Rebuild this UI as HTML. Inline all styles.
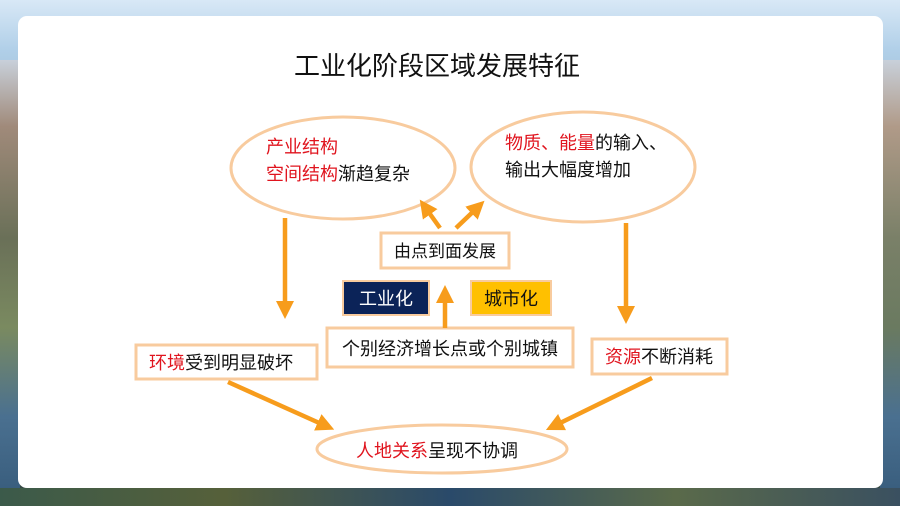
<!DOCTYPE html>
<html><head><meta charset="utf-8"><style>
html,body{margin:0;padding:0;width:900px;height:506px;overflow:hidden}
body{background:linear-gradient(180deg,#d8e8f6 0%,#b0cfe8 10%,#8aa0b0 40%,#5f7c86 70%,#2c4656 90%,#3a4a3a 100%);position:relative;font-family:"Liberation Sans","Noto Sans CJK SC",sans-serif}
.l{position:absolute;left:0;top:60px;width:20px;height:446px;background:linear-gradient(180deg,#c8d0da,#a08a7a 15%,#6a7058 40%,#7a8a60 60%,#4a7090 80%,#365a7a)}
.r{position:absolute;right:0;top:60px;width:20px;height:446px;background:linear-gradient(180deg,#c8d0da,#b09a88 15%,#7a8068 40%,#6a7a60 60%,#4a7090 80%,#365a7a)}
.b{position:absolute;left:0;top:488px;width:900px;height:18px;background:linear-gradient(90deg,#3b5a4a,#56603a,#2a4a6a,#5a6a4a,#3a5060)}
.card{position:absolute;left:18px;top:16px;width:865px;height:472px;background:#fff;border-radius:9px}
svg{position:absolute;left:0;top:0}
text{font-family:"Liberation Sans","Noto Sans CJK SC",sans-serif}
</style></head><body>
<div class="l"></div><div class="r"></div><div class="b"></div>
<div class="card"></div>
<svg width="900" height="506" viewBox="0 0 900 506">
<defs>
<marker id="a" markerWidth="4" markerHeight="4" refX="2" refY="2" orient="auto" markerUnits="strokeWidth"><path d="M0,0 L4,2 L0,4 z" fill="#f79c1c"/></marker>
</defs>
<text x="437" y="75" font-size="26" text-anchor="middle" fill="#111">工业化阶段区域发展特征</text>
<ellipse cx="343" cy="168" rx="112" ry="51" fill="none" stroke="#f8cb9e" stroke-width="3"/>
<ellipse cx="583" cy="167" rx="112" ry="55" fill="none" stroke="#f8cb9e" stroke-width="3"/>
<ellipse cx="442" cy="449" rx="125" ry="24" fill="none" stroke="#f8cb9e" stroke-width="3"/>
<text x="266" y="153" font-size="18" fill="#e0141e">产业结构</text>
<text x="266" y="180" font-size="18"><tspan fill="#e0141e">空间结构</tspan><tspan fill="#111">渐趋复杂</tspan></text>
<text x="505" y="149" font-size="18"><tspan fill="#e0141e">物质、能量</tspan><tspan fill="#111">的输入、</tspan></text>
<text x="505" y="176" font-size="18" fill="#111">输出大幅度增加</text>
<text x="356" y="457" font-size="18"><tspan fill="#e0141e">人地关系</tspan><tspan fill="#111">呈现不协调</tspan></text>
<g stroke="#f8cb9e" stroke-width="3" fill="#fff">
<rect x="381" y="233" width="128" height="35"/>
<rect x="327" y="328" width="246" height="39"/>
<rect x="136" y="345" width="181" height="34"/>
<rect x="592" y="339" width="135" height="35"/>
</g>
<rect x="343" y="281" width="86" height="34" fill="#0b2358" stroke="#f8cb9e" stroke-width="2"/>
<rect x="471" y="281" width="80" height="34" fill="#ffc000" stroke="#f8cb9e" stroke-width="2"/>
<text x="445" y="257" font-size="17" text-anchor="middle" fill="#111">由点到面发展</text>
<text x="386" y="305" font-size="18" text-anchor="middle" fill="#fff">工业化</text>
<text x="511" y="305" font-size="18" text-anchor="middle" fill="#111">城市化</text>
<text x="450" y="355" font-size="18" text-anchor="middle" fill="#111">个别经济增长点或个别城镇</text>
<text x="149" y="369" font-size="18"><tspan fill="#e0141e">环境</tspan><tspan fill="#111">受到明显破坏</tspan></text>
<text x="605" y="363" font-size="18"><tspan fill="#e0141e">资源</tspan><tspan fill="#111">不断消耗</tspan></text>
<g stroke="#f79c1c" stroke-width="4.5" marker-end="url(#a)">
<line x1="440" y1="228" x2="425" y2="207"/>
<line x1="456" y1="228" x2="478" y2="207"/>
<line x1="445" y1="328" x2="445" y2="294"/>
<line x1="285" y1="218" x2="285" y2="310"/>
<line x1="626" y1="223" x2="626" y2="315"/>
<line x1="228" y1="382" x2="326" y2="426"/>
<line x1="652" y1="378" x2="554" y2="426"/>
</g>
</svg>
</body></html>
